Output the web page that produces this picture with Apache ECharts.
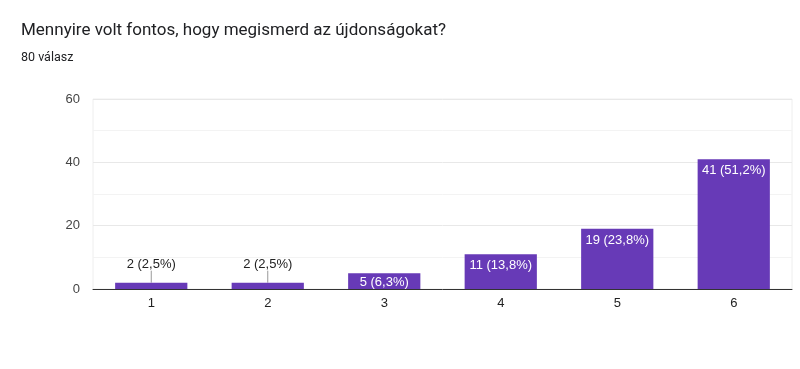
<!DOCTYPE html>
<html><head><meta charset="utf-8">
<script src="https://cdn.jsdelivr.net/npm/echarts@6/dist/echarts.min.js"></script>
<style>html,body{margin:0;padding:0;background:#fff}#c{width:800px;height:369px}</style>
</head><body><div id="c"></div>
<script>
const titleText = 'Mennyire volt fontos, hogy megismerd az újdonságokat?';
const subtitleText = '80 válasz';
const categories = ['1','2','3','4','5','6'];
const counts = [2, 2, 5, 11, 19, 41];
const percents = ['2,5%', '2,5%', '6,3%', '13,8%', '23,8%', '51,2%'];
const yTicks = [0, 20, 40, 60];

const FONT = '"Liberation Sans", Arial, sans-serif';
const chart = echarts.init(document.getElementById('c'), null, {renderer: 'canvas'});
const isSmall = v => v < 4;
const data = counts.map((v, i) => {
  const small = isSmall(v);
  return {
    value: v,
    label: small ? {
      position: 'top', distance: 1, color: '#222', fontSize: 13
    } : {
      position: 'insideTop', distance: v < 8 ? 3 : 5, color: '#fff', fontSize: 13
    },
    labelLine: small ? {show: true, lineStyle: {color: '#999', width: 1}} : {show: false}
  };
});
chart.setOption({
  animation: false,
  textStyle: {fontFamily: FONT},
  title: [
    {text: titleText, left: 16, top: 17, textStyle: {fontFamily: 'Roboto', fontSize: 17, fontWeight: 'normal', color: '#202124'}},
    {text: subtitleText, left: 16, top: 46, textStyle: {fontFamily: 'Roboto', fontSize: 12.5, fontWeight: 'normal', color: '#202124'}}
  ],
  grid: {left: 93, right: 8, top: 99, bottom: 80, show: true, borderColor: '#eeeeee', borderWidth: 1},
  xAxis: {
    type: 'category', data: categories,
    axisLine: {lineStyle: {color: '#333', width: 1}},
    axisTick: {show: false},
    axisLabel: {color: '#222', fontSize: 13, margin: 8, fontFamily: FONT}
  },
  yAxis: {
    type: 'value', min: 0, max: 60, interval: 20,
    axisLine: {show: false}, axisTick: {show: false},
    axisLabel: {color: '#444', fontSize: 13, margin: 13, fontFamily: FONT,
      formatter: v => yTicks.includes(v) ? String(v) : ''},
    splitLine: {lineStyle: {color: '#e8e8e8'}},
    minorTick: {show: false, splitNumber: 2},
    minorSplitLine: {show: true, lineStyle: {color: '#f3f3f3'}}
  },
  series: [{
    type: 'bar', data: data, barWidth: '62%',
    itemStyle: {color: '#673ab7'},
    label: {show: true, fontFamily: FONT,
      formatter: p => counts[p.dataIndex] + ' (' + percents[p.dataIndex] + ')'},
    labelLine: {show: true, lineStyle: {color: '#999', width: 1}},
    labelLayout: p => isSmall(counts[p.dataIndex]) ? {dy: -11} : {}
  }]
});
</script></body></html>
